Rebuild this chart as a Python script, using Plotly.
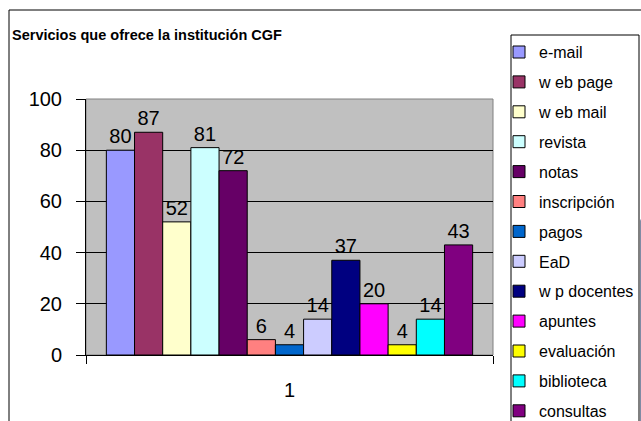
import plotly.graph_objects as go

category = ["1"]
services = ["e-mail", "w eb page", "w eb mail", "revista", "notas", "inscripción", "pagos",
            "EaD", "w p docentes", "apuntes", "evaluación", "biblioteca", "consultas"]
values = [80, 87, 52, 81, 72, 6, 4, 14, 37, 20, 4, 14, 43]
colors = ["#9999FF", "#993366", "#FFFFCC", "#CCFFFF", "#660066", "#FF8080", "#0066CC",
          "#CCCCFF", "#000080", "#FF00FF", "#FFFF00", "#00FFFF", "#800080"]
y_ticks = [0, 20, 40, 60, 80, 100]

FONT = "Arial, 'Liberation Sans', sans-serif"
W, H = 641, 421
L, R, T, B = 86, 641 - 493, 99, 421 - 355
PW, PH = W - L - R, H - T - B
SPLIT = 6          # first legend block holds the first 6 entries
ROW = 29.9         # legend row pitch in px
LEG_FS = 16
LEG_GAP = ROW - (LEG_FS * 1.3 + 3)
LEG_OFF = 5 + (LEG_FS * 1.3 + 3) / 2
FIRST_ROW = 52

def px_x(p):
    return (p - L) / PW

def px_y(p):
    return (H - B - p) / PH

fig = go.Figure()
for i, (name, v, c) in enumerate(zip(services, values, colors)):
    fig.add_trace(go.Bar(
        x=category, y=[v], name=name, legendgroup=name,
        legend="legend" if i < SPLIT else "legend2",
        marker=dict(color=c, line=dict(color="black", width=1)),
        text=[str(v)], textposition="outside", constraintext="none",
        textfont=dict(family=FONT, size=20, color="black"),
        cliponaxis=False, hoverinfo="skip",
    ))

legend_common = dict(xref="container", yref="container", xanchor="left", yanchor="top",
                     font=dict(size=LEG_FS, family=FONT, color="black"),
                     bgcolor="rgba(0,0,0,0)", borderwidth=0, tracegroupgap=LEG_GAP)

fig.update_layout(
    width=W, height=H,
    margin=dict(l=L, r=R, t=T, b=B, autoexpand=False),
    paper_bgcolor="white", plot_bgcolor="#C0C0C0",
    barmode="group", bargap=0.1, bargroupgap=0,
    font=dict(family=FONT, color="black"),
    title=dict(text="<b>Servicios que ofrece la institución CGF</b>",
               xref="container", yref="container", x=12 / W, xanchor="left",
               y=1 - 35 / H, yanchor="middle", pad=dict(l=0, r=0, t=0, b=0),
               font=dict(size=14.5, family=FONT, color="black")),
    showlegend=True,
    legend=dict(x=499 / W, y=1 - (FIRST_ROW - LEG_OFF) / H, **legend_common),
    legend2=dict(x=499 / W, y=1 - (FIRST_ROW + SPLIT * ROW - LEG_OFF) / H, **legend_common),
    xaxis=dict(type="category", range=[-0.5, 0.5], showline=True, linecolor="black", linewidth=1,
               ticks="outside", tickson="boundaries", ticklen=8, tickcolor="black",
               tickfont=dict(size=20, family=FONT, color="black"), ticklabelstandoff=17,
               showgrid=False, fixedrange=True, automargin=False),
    yaxis=dict(range=[0, 100], tickvals=y_ticks, showline=True, linecolor="black", linewidth=1,
               ticks="outside", ticklen=9, tickcolor="black",
               tickfont=dict(size=20, family=FONT, color="black"), ticklabelstandoff=10,
               showgrid=True, gridcolor="black", gridwidth=1, zeroline=False, automargin=False,
               fixedrange=True),
    shapes=[
        dict(type="rect", xref="paper", yref="paper", x0=0, x1=1, y0=0, y1=1,
             line=dict(color="#808080", width=1), layer="below"),
        dict(type="rect", xref="paper", yref="paper", x0=px_x(9), x1=px_x(700),
             y0=px_y(480), y1=px_y(10), line=dict(color="black", width=1), layer="below"),
        dict(type="rect", xref="paper", yref="paper", x0=px_x(511), x1=px_x(639),
             y0=px_y(480), y1=px_y(35), line=dict(color="black", width=1), layer="below"),
    ],
)

fig.write_html("out.html", config={"displayModeBar": False},
               post_script="document.body.style.margin='0';")
